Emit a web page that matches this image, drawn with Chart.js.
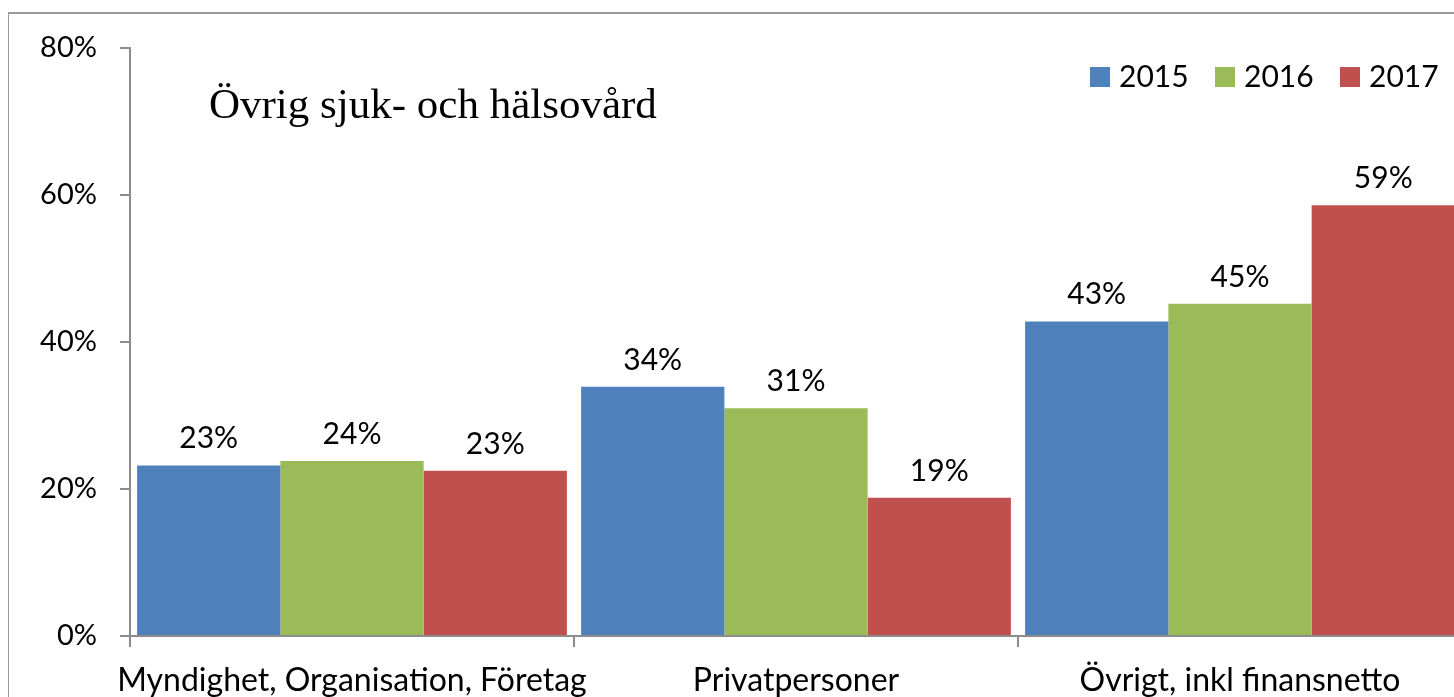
<!DOCTYPE html>
<html lang="sv">
<head>
<meta charset="UTF-8">
<script src="https://cdn.jsdelivr.net/npm/chart.js@4.4.0/dist/chart.umd.min.js"></script>
<title>Övrig sjuk- och hälsovård</title>
<style>
  html, body { margin: 0; padding: 0; background: #fff; overflow: hidden; }
  #wrap { position: relative; width: 1454px; height: 697px; overflow: hidden; }
  #frame { position: absolute; left: 8px; top: 12px; width: 1460px; height: 700px;
           border-left: 1px solid #9a9a9a; border-top: 2px solid #9a9a9a; }
  #box { position: absolute; left: 0; top: 0; width: 1462px; height: 697px; }
</style>
</head>
<body>
<div id="wrap">
  <div id="frame"></div>
  <div id="box"><canvas id="chart"></canvas></div>
</div>
<script>
const categories = ['Myndighet, Organisation, Företag', 'Privatpersoner', 'Övrigt, inkl finansnetto'];
const years = ['2015', '2016', '2017'];
const values2015 = [23.2, 33.9, 42.8];
const values2016 = [23.8, 31.0, 45.2];
const values2017 = [22.5, 18.8, 58.6];
const yTicks = [0, 20, 40, 60, 80];
const colors = ['#4F81BD', '#9BBB59', '#C0504D'];
const titleText = 'Övrig sjuk- och hälsovård';

const sansFont = 'Lato, "Open Sans", sans-serif';

// values above each bar
const barLabels = {
  id: 'barLabels',
  afterDatasetsDraw(chart) {
    const ctx = chart.ctx;
    ctx.save();
    ctx.font = '30px ' + sansFont;
    ctx.fillStyle = '#000';
    ctx.textAlign = 'center';
    ctx.textBaseline = 'alphabetic';
    chart.data.datasets.forEach((ds, i) => {
      chart.getDatasetMeta(i).data.forEach((bar, j) => {
        ctx.fillText(Math.round(ds.data[j]) + '%', bar.x, bar.y - 17);
      });
    });
    ctx.restore();
  }
};

// title text and legend drawn by hand so the plot area stays put
const extras = {
  id: 'extras',
  afterDraw(chart) {
    const ctx = chart.ctx;
    ctx.save();
    ctx.fillStyle = '#000';
    ctx.font = '43px "Liberation Serif", "Times New Roman", serif';
    ctx.textBaseline = 'alphabetic';
    ctx.textAlign = 'left';
    ctx.fillText(titleText, 209, 118);

    ctx.font = '30px ' + sansFont;
    ctx.textBaseline = 'middle';
    let x = 1090;
    chart.data.datasets.forEach((ds, i) => {
      ctx.fillStyle = ds.backgroundColor;
      ctx.fillRect(x, 67, 20, 20);
      ctx.fillStyle = '#000';
      ctx.fillText(ds.label, x + 29, 77);
      x += 125;
    });
    ctx.restore();
  }
};

const datasets = [values2015, values2016, values2017].map((vals, i) => ({
  label: years[i],
  data: vals,
  backgroundColor: colors[i],
  borderWidth: 0,
  categoryPercentage: 0.968,
  barPercentage: 1.0
}));

new Chart(document.getElementById('chart'), {
  type: 'bar',
  data: { labels: categories, datasets: datasets },
  plugins: [barLabels, extras],
  options: {
    responsive: true,
    maintainAspectRatio: false,
    animation: false,
    layout: { padding: { top: 48, right: 0, left: 0, bottom: 0 } },
    plugins: {
      legend: { display: false },
      tooltip: { enabled: false }
    },
    scales: {
      x: {
        grid: { display: true, drawOnChartArea: false, drawTicks: true, offset: true, tickLength: 11, color: '#8c8c8c', lineWidth: 2 },
        border: { display: true, color: '#8c8c8c', width: 2 },
        ticks: { font: { size: 32, family: sansFont }, color: '#000', padding: 14, maxRotation: 0, autoSkip: false },
        afterFit(scale) { scale.height = 61; }
      },
      y: {
        min: 0,
        max: 80,
        afterBuildTicks(scale) { scale.ticks = yTicks.map(v => ({ value: v })); },
        grid: { display: true, drawOnChartArea: false, tickLength: 10, color: '#8c8c8c', lineWidth: 2 },
        border: { display: true, color: '#8c8c8c', width: 2 },
        ticks: {
          font: { size: 29, family: sansFont }, color: '#000', padding: 23,
          callback: v => v + '%'
        },
        afterFit(scale) { scale.width = 130; }
      }
    }
  }
});
</script>
</body>
</html>
